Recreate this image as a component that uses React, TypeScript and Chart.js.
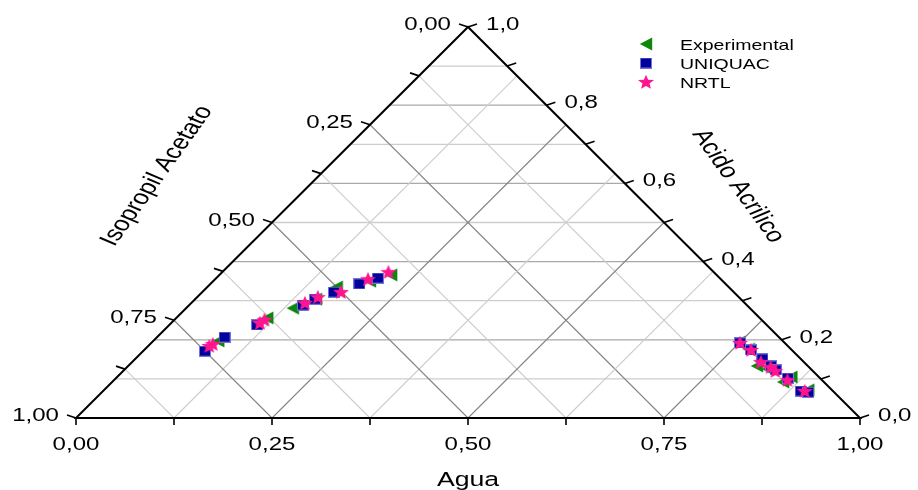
import React, { useEffect, useRef } from "react";
import { Chart, registerables } from "chart.js";
Chart.register(...registerables);

// Ternary composition (mass fractions): Agua and Acido Acrilico; Isopropil Acetato = 1 - both
const expAgua = [0.083, 0.116, 0.136, 0.154, 0.165, 0.2, 0.219, 0.749, 0.77, 0.802, 0.82, 0.856, 0.86, 0.898];
const expAcido = [0.197, 0.256, 0.281, 0.304, 0.335, 0.35, 0.366, 0.194, 0.176, 0.133, 0.125, 0.092, 0.105, 0.072];
const uniAgua = [0.079, 0.086, 0.112, 0.145, 0.153, 0.168, 0.19, 0.206, 0.751, 0.774, 0.8, 0.82, 0.831, 0.857, 0.89, 0.901];
const uniAcido = [0.171, 0.207, 0.238, 0.289, 0.304, 0.322, 0.343, 0.358, 0.192, 0.174, 0.151, 0.133, 0.123, 0.102, 0.069, 0.066];
const nrtlAgua = [0.078, 0.08, 0.113, 0.115, 0.145, 0.154, 0.177, 0.195, 0.212, 0.751, 0.774, 0.802, 0.821, 0.832, 0.859, 0.895];
const nrtlAcido = [0.184, 0.189, 0.243, 0.251, 0.294, 0.309, 0.322, 0.355, 0.373, 0.192, 0.174, 0.143, 0.13, 0.12, 0.097, 0.069];

const seriesNames = ["Experimental", "UNIQUAC", "NRTL"];
const aguaTickLabels = ["0,00", "0,25", "0,50", "0,75", "1,00"];
const isoTickLabels = ["0,00", "0,25", "0,50", "0,75", "1,00"];
const acidoTickLabels = ["0,0", "0,2", "0,4", "0,6", "0,8", "1,0"];
const titleAgua = "Agua";
const titleIso = "Isopropil Acetato";
const titleAcido = "Acido Acrilico";

const FONT = "'Liberation Sans', Arial, sans-serif";
const SX = 1.3;

function toXY(agua: number[], acido: number[]) {
  return agua.map((a, i) => ({ x: a + acido[i] / 2, y: acido[i] }));
}

function makeTriangle() {
  const c = document.createElement("canvas");
  c.width = 14; c.height = 14;
  const g = c.getContext("2d")!;
  g.fillStyle = "#0b870b";
  g.beginPath();
  g.moveTo(0.8, 7); g.lineTo(13.2, 0.5); g.lineTo(13.2, 13.5); g.closePath();
  g.fill();
  return c;
}
function makeSquare() {
  const c = document.createElement("canvas");
  c.width = 12; c.height = 11;
  const g = c.getContext("2d")!;
  g.fillStyle = "#7474d8";
  g.fillRect(0, 0, 12, 11);
  g.fillStyle = "#00009c";
  g.fillRect(1, 1, 10, 9);
  return c;
}
function makeStar() {
  const c = document.createElement("canvas");
  c.width = 18; c.height = 16;
  const g = c.getContext("2d")!;
  g.fillStyle = "#ff1590";
  g.beginPath();
  for (let i = 0; i < 10; i++) {
    const r = i % 2 === 0 ? 7.8 : 3.4;
    const ang = -Math.PI / 2 + (i * Math.PI) / 5;
    const x = 9 + Math.cos(ang) * r * 1.08;
    const y = 8.5 + Math.sin(ang) * r;
    if (i === 0) g.moveTo(x, y); else g.lineTo(x, y);
  }
  g.closePath();
  g.fill();
  return c;
}

function txt(ctx: CanvasRenderingContext2D, s: string, x: number, y: number, align: CanvasTextAlign, size: number) {
  ctx.save();
  ctx.translate(x, y);
  ctx.scale(SX, 1);
  ctx.font = `${size}px ${FONT}`;
  ctx.textAlign = align;
  ctx.textBaseline = "alphabetic";
  ctx.fillStyle = "#000";
  ctx.fillText(s, 0, 0);
  ctx.restore();
}

export default function App() {
  const ref = useRef<HTMLCanvasElement>(null);
  useEffect(() => {
    const tri = makeTriangle();
    const sq = makeSquare();
    const star = makeStar();
    const markers = [tri, sq, star];

    const plugin = {
      id: "ternary",
      beforeDatasetsDraw(chart: any) {
        const ctx: CanvasRenderingContext2D = chart.ctx;
        const xs = chart.scales.x, ys = chart.scales.y;
        const P = (ag: number, ac: number) => [xs.getPixelForValue(ag + ac / 2), ys.getPixelForValue(ac)];
        const line = (p: number[], q: number[], col: string, w: number) => {
          ctx.strokeStyle = col; ctx.lineWidth = w;
          ctx.beginPath(); ctx.moveTo(p[0], p[1]); ctx.lineTo(q[0], q[1]); ctx.stroke();
        };
        ctx.save();
        for (let i = 1; i < 10; i++) {
          const a = i / 10;
          line(P(0, a), P(1 - a, a), i % 2 === 0 ? "#a9a9a9" : "#cdcdcd", 1.3);
        }
        for (let i = 1; i < 8; i++) {
          const w = i / 8;
          line(P(w, 0), P(w, 1 - w), i % 2 === 0 ? "#858585" : "#cdcdcd", 1.1);
          line(P(1 - w, 0), P(0, 1 - w), i % 2 === 0 ? "#858585" : "#cdcdcd", 1.1);
        }
        // edges
        ctx.lineJoin = "miter";
        ctx.strokeStyle = "#000"; ctx.lineWidth = 2;
        const A = P(0, 0), B = P(1, 0), C = P(0, 1);
        ctx.beginPath(); ctx.moveTo(A[0], A[1]); ctx.lineTo(B[0], B[1]); ctx.lineTo(C[0], C[1]); ctx.closePath(); ctx.stroke();
        // ticks
        for (let i = 0; i <= 8; i++) {
          const w = i / 8;
          const b = P(w, 0);
          line(b, [b[0], b[1] + 7], "#000", 1.6);
          const l = P(0, 1 - w); // iso = w
          line(l, [l[0] - 9, l[1] - 3], "#000", 1.6);
        }
        for (let i = 0; i <= 10; i++) {
          const a = i / 10;
          const r = P(1 - a, a);
          line(r, [r[0] + 9, r[1] - 3], "#000", 1.6);
        }
        ctx.restore();
      },
      afterDraw(chart: any) {
        const ctx: CanvasRenderingContext2D = chart.ctx;
        const xs = chart.scales.x, ys = chart.scales.y;
        const P = (ag: number, ac: number) => [xs.getPixelForValue(ag + ac / 2), ys.getPixelForValue(ac)];
        aguaTickLabels.forEach((s, i) => {
          const p = P(i / 4, 0);
          txt(ctx, s, p[0], p[1] + 32, "center", 18.5);
        });
        isoTickLabels.forEach((s, i) => {
          const p = P(0, 1 - i / 4);
          txt(ctx, s, p[0] - 17, p[1] + 3, "right", 18.5);
        });
        acidoTickLabels.forEach((s, i) => {
          const a = i / 5;
          const p = P(1 - a, a);
          txt(ctx, s, p[0] + 18, p[1] + 3, "left", 18.5);
        });
        txt(ctx, titleAgua, P(0.5, 0)[0], 486, "center", 20.5);
        const rot = (s: string, x: number, y: number, ang: number) => {
          ctx.save();
          ctx.translate(x, y);
          ctx.scale(SX, 1);
          ctx.rotate(ang);
          ctx.font = `21px ${FONT}`;
          ctx.textAlign = "center";
          ctx.textBaseline = "middle";
          ctx.fillStyle = "#000";
          ctx.fillText(s, 0, 0);
          ctx.restore();
        };
        rot(titleIso, 157, 176, (-61 * Math.PI) / 180);
        rot(titleAcido, 738, 186, (61 * Math.PI) / 180);
        // legend
        const ly = [44, 63, 82];
        seriesNames.forEach((s, i) => {
          const m = markers[i];
          ctx.drawImage(m, 646 - m.width / 2, ly[i] - m.height / 2);
          txt(ctx, s, 680, ly[i] + 5.5, "left", 15);
        });
      },
    };

    const chart = new Chart(ref.current!, {
      type: "scatter",
      data: {
        datasets: [
          { label: seriesNames[2], data: toXY(nrtlAgua, nrtlAcido), pointStyle: star as any, order: 0 },
          { label: seriesNames[1], data: toXY(uniAgua, uniAcido), pointStyle: sq as any, order: 1 },
          { label: seriesNames[0], data: toXY(expAgua, expAcido), pointStyle: tri as any, order: 2 },
        ],
      },
      options: {
        animation: false,
        responsive: false,
        devicePixelRatio: 1,
        layout: { padding: { left: 76, right: 58, top: 27, bottom: 72 } },
        scales: {
          x: { type: "linear", min: 0, max: 1, display: false },
          y: { type: "linear", min: 0, max: 1, display: false },
        },
        plugins: { legend: { display: false }, tooltip: { enabled: false } },
      },
      plugins: [plugin],
    });
    return () => chart.destroy();
  }, []);
  return (
    <div style={{ position: "fixed", left: 0, top: 0, width: 918, height: 490, background: "#fff" }}>
      <canvas ref={ref} width={918} height={490} style={{ display: "block" }} />
    </div>
  );
}
